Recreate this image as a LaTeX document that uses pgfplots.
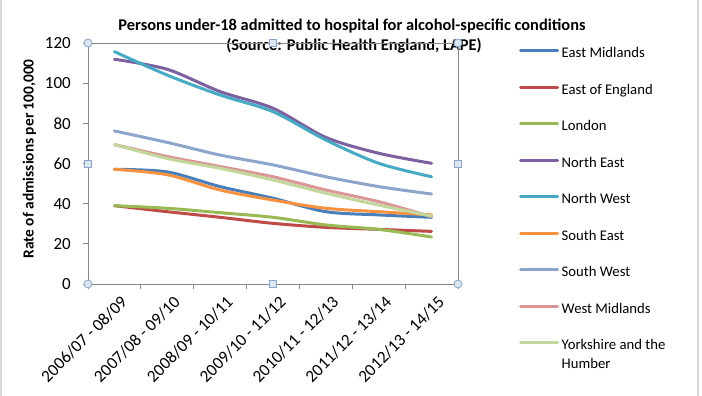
\documentclass[border=0pt]{standalone}
\usepackage{pgfplots}
\pgfplotsset{compat=1.18}
\usepackage{fontspec}
\setmainfont{Carlito}
\definecolor{cEM}{HTML}{4A7EBB}
\definecolor{cEE}{HTML}{BE4B48}
\definecolor{cLO}{HTML}{98B954}
\definecolor{cNE}{HTML}{7D60A0}
\definecolor{cNW}{HTML}{46AAC5}
\definecolor{cSE}{HTML}{F69240}
\definecolor{cSW}{HTML}{8EA5CB}
\definecolor{cWM}{HTML}{D99694}
\definecolor{cYH}{HTML}{C3D69B}
\definecolor{axgray}{HTML}{868686}
\definecolor{hfill}{HTML}{DCE6F2}
\definecolor{hdraw}{HTML}{8AA6C8}
\begin{document}
\begin{tikzpicture}[x=1pt,y=1pt]
\path[use as bounding box] (0,0) rectangle (702,396);
\draw[gray!30, line width=2pt] (1,0) -- (1,396);
\draw[gray!30, line width=2pt] (698,0) -- (698,396);
\node[font=\bfseries\fontsize{16.4}{18}\selectfont, anchor=base] at (352,365) {Persons under-18 admitted to hospital for alcohol-specific conditions};
\node[font=\bfseries\fontsize{16.4}{18}\selectfont, anchor=base] at (354,345) {(Source: Public Health England, LAPE)};
\begin{axis}[
  at={(88pt,112pt)}, anchor=south west,
  scale only axis, width=370pt, height=241pt,
  xmin=-0.5, xmax=6.5, ymin=0, ymax=120,
  xtick={-0.5,0.5,...,6.5},
  x tick label as interval,
  xticklabels={2006/07 - 08/09,2007/08 - 09/10,2008/09 - 10/11,2009/10 - 11/12,2010/11 - 12/13,2011/12 - 13/14,2012/13 - 14/15},
  ytick={0,20,...,120},
  xtick pos=bottom, ytick pos=left,
  tick align=outside, major tick length=5pt,
  axis line style={draw=axgray, line width=0.8pt},
  tick style={draw=axgray, line width=0.8pt},
  /pgf/number format/assume math mode=true,
  yticklabel style={font=\fontsize{17}{20}\selectfont, anchor=east, inner sep=0pt, xshift=-12pt},
  xticklabel style={font=\fontsize{17.2}{20}\selectfont, rotate=45, anchor=east, inner sep=0pt, yshift=-14pt},
  ylabel={Rate of admissions per 100,000},
  ylabel style={font=\bfseries\fontsize{15.4}{17}\selectfont, at={(axis description cs:-0.158,0.519)}, anchor=center, rotate=0},
  clip=false,
  legend cell align=left,
  legend image code/.code={\draw[#1, line width=3pt] (0pt,4pt) -- (37pt,4pt);},
  legend style={at={(axis description cs:1.1649,0.9805)}, anchor=north west, draw=none, fill=none, inner sep=0pt,
    font=\fontsize{14.7}{17}\selectfont, row sep=22.5pt,
    nodes={inner sep=0pt, text height=10pt, text depth=4pt},
    /tikz/every odd column/.append style={column sep=2.5pt}},
  every axis plot/.append style={line width=3pt, smooth, tension=0.5, line join=round, line cap=round},
]
\addplot[cEM] coordinates {(0,57.1)(1,55.8)(2,48.5)(3,42.7)(4,36.0)(5,34.4)(6,33.2)};
\addlegendentry{East Midlands}
\addplot[cEE] coordinates {(0,39.0)(1,36.0)(2,33.2)(3,30.2)(4,28.2)(5,27.2)(6,26.2)};
\addlegendentry{East of England}
\addplot[cLO] coordinates {(0,39.0)(1,37.7)(2,35.5)(3,33.2)(4,29.4)(5,27.2)(6,23.4)};
\addlegendentry{London}
\addplot[cNE] coordinates {(0,111.9)(1,106.9)(2,95.8)(3,87.5)(4,73.0)(5,65.1)(6,60.1)};
\addlegendentry{North East}
\addplot[cNW] coordinates {(0,115.7)(1,104.0)(2,94.1)(3,85.8)(4,71.7)(5,60.1)(6,53.4)};
\addlegendentry{North West}
\addplot[cSE] coordinates {(0,57.1)(1,54.4)(2,46.8)(3,41.8)(4,37.7)(5,36.0)(6,34.4)};
\addlegendentry{South East}
\addplot[cSW] coordinates {(0,76.2)(1,70.5)(2,64.2)(3,59.3)(4,53.4)(5,48.5)(6,44.8)};
\addlegendentry{South West}
\addplot[cWM] coordinates {(0,69.4)(1,63.5)(2,58.5)(3,53.4)(4,46.8)(5,41.0)(6,33.5)};
\addlegendentry{West Midlands}
\addplot[cYH] coordinates {(0,69.4)(1,62.5)(2,57.6)(3,51.8)(4,45.2)(5,39.3)(6,33.8)};
\addlegendentry{\begin{tabular}[t]{@{}l@{}}Yorkshire and the\\[2pt]Humber\end{tabular}}
\draw[hdraw, fill=hfill, line width=0.8pt] (axis description cs:0,0) circle[radius=4pt];
\draw[hdraw, fill=hfill, line width=0.8pt] (axis description cs:1,0) circle[radius=4pt];
\draw[hdraw, fill=hfill, line width=0.8pt] (axis description cs:0,1) circle[radius=4pt];
\draw[hdraw, fill=hfill, line width=0.8pt] (axis description cs:1,1) circle[radius=4pt];
\draw[hdraw, fill=hfill, line width=0.8pt] (axis description cs:0.5,0) ++(-3.5pt,-3.5pt) rectangle ++(7pt,7pt);
\draw[hdraw, fill=hfill, line width=0.8pt] (axis description cs:0.5,1) ++(-3.5pt,-3.5pt) rectangle ++(7pt,7pt);
\draw[hdraw, fill=hfill, line width=0.8pt] (axis description cs:0,0.5) ++(-3.5pt,-3.5pt) rectangle ++(7pt,7pt);
\draw[hdraw, fill=hfill, line width=0.8pt] (axis description cs:1,0.5) ++(-3.5pt,-3.5pt) rectangle ++(7pt,7pt);
\end{axis}
\end{tikzpicture}
\end{document}
